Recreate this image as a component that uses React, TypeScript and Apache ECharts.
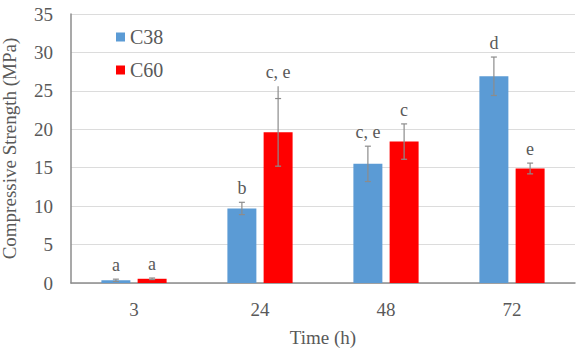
import React, { useEffect, useRef } from "react";
import * as echarts from "echarts";

// Compressive strength of two mixes over curing time
const categories = ["3", "24", "48", "72"];
const c38Values = [0.35, 9.7, 15.5, 26.9];
const c38Sd = [0.15, 0.8, 2.3, 2.5];
const c38Letters = ["a", "b", "c, e", "d"];
const c60Values = [0.55, 19.6, 18.4, 14.9];
const c60Sd = [0.1, 4.4, 2.3, 0.7];
// upper whisker that runs past the cap (null = ends at the cap)
const c60WhiskerTop: (number | null)[] = [null, 25.6, null, null];
const c60Letters = ["a", "c, e", "c", "e"];
const yTicks = [0, 5, 10, 15, 20, 25, 30, 35];

const FONT = "Liberation Serif, DejaVu Serif, serif";
const TEXT = "#595959";
const BAR_FRAC = 0.23;
const GAP_FRAC = 0.25;

function errorSeries(
  name: string,
  values: number[],
  sd: number[],
  letters: string[],
  whisker: (number | null)[],
  side: number
) {
  const data = values.map((v, i) => [
    i,
    v - sd[i],
    v + sd[i],
    whisker[i] == null ? v + sd[i] : (whisker[i] as number),
    letters[i],
  ]);
  return {
    type: "custom",
    name: name + " error",
    z: 5,
    silent: true,
    data,
    encode: { x: 0, y: [1, 2, 3] },
    renderItem: (params: any, api: any) => {
      const idx = api.value(0);
      const band = api.size([1, 0])[0];
      const bw = band * BAR_FRAC;
      const off = (side * (bw + bw * GAP_FRAC)) / 2;
      const lo = api.coord([idx, api.value(1)]);
      const hi = api.coord([idx, api.value(2)]);
      const top = api.coord([idx, api.value(3)]);
      const x = lo[0] + off;
      const cap = 3;
      const stroke = { stroke: "#8c8c8c", lineWidth: 1.2 };
      return {
        type: "group",
        children: [
          { type: "line", shape: { x1: x, y1: lo[1], x2: x, y2: top[1] }, style: stroke },
          { type: "line", shape: { x1: x - cap, y1: lo[1], x2: x + cap, y2: lo[1] }, style: stroke },
          { type: "line", shape: { x1: x - cap, y1: hi[1], x2: x + cap, y2: hi[1] }, style: stroke },
          {
            type: "text",
            x: x,
            y: top[1] - 5,
            style: {
              text: String(data[params.dataIndex][4]),
              fill: TEXT,
              font: `18px ${FONT}`,
              align: "center",
              verticalAlign: "bottom",
            },
          },
        ],
      };
    },
  };
}

export default function App() {
  const ref = useRef<HTMLDivElement>(null);

  useEffect(() => {
    if (!ref.current) return;
    const chart = echarts.init(ref.current, undefined, { renderer: "svg" });
    chart.setOption({
      animation: false,
      textStyle: { fontFamily: FONT },
      grid: { left: 71, right: 6, top: 14, bottom: 65, outerBoundsMode: "none" },
      legend: {
        orient: "vertical",
        left: 111,
        top: 22,
        itemWidth: 9,
        itemHeight: 9,
        itemGap: 13,
        itemTextGap: 4,
        icon: "rect",
        data: ["C38", "C60"],
        textStyle: { fontFamily: FONT, fontSize: 20, color: TEXT },
      },
      xAxis: {
        type: "category",
        data: categories,
        name: "Time (h)",
        nameLocation: "middle",
        nameGap: 45,
        nameTextStyle: { fontFamily: FONT, fontSize: 19, color: TEXT },
        axisLine: { lineStyle: { color: "#8c8c8c", width: 1.5 } },
        axisTick: { show: false },
        axisLabel: { fontFamily: FONT, fontSize: 19, color: TEXT, margin: 17 },
      },
      yAxis: {
        type: "value",
        min: yTicks[0],
        max: yTicks[yTicks.length - 1],
        interval: 5,
        name: "Compressive Strength (MPa)",
        nameLocation: "middle",
        nameGap: 52,
        nameTextStyle: { fontFamily: FONT, fontSize: 19, color: TEXT },
        axisLine: { show: true, lineStyle: { color: "#8c8c8c", width: 1.5 } },
        axisTick: { show: false },
        axisLabel: { fontFamily: FONT, fontSize: 19, color: TEXT, margin: 18 },
        splitLine: { lineStyle: { color: "#dcdcdc", width: 1.2 } },
      },
      series: [
        {
          name: "C38",
          type: "bar",
          data: c38Values,
          barWidth: `${BAR_FRAC * 100}%`,
          barGap: `${GAP_FRAC * 100}%`,
          itemStyle: { color: "#5b9bd5" },
        },
        {
          name: "C60",
          type: "bar",
          data: c60Values,
          barWidth: `${BAR_FRAC * 100}%`,
          barGap: `${GAP_FRAC * 100}%`,
          itemStyle: { color: "#ff0000" },
        },
        errorSeries("C38", c38Values, c38Sd, c38Letters, [null, null, null, null], -1),
        errorSeries("C60", c60Values, c60Sd, c60Letters, c60WhiskerTop, 1),
      ],
    });
    return () => chart.dispose();
  }, []);

  return (
    <div
      ref={ref}
      style={{ position: "absolute", left: 0, top: 0, width: 581, height: 348 }}
    />
  );
}
